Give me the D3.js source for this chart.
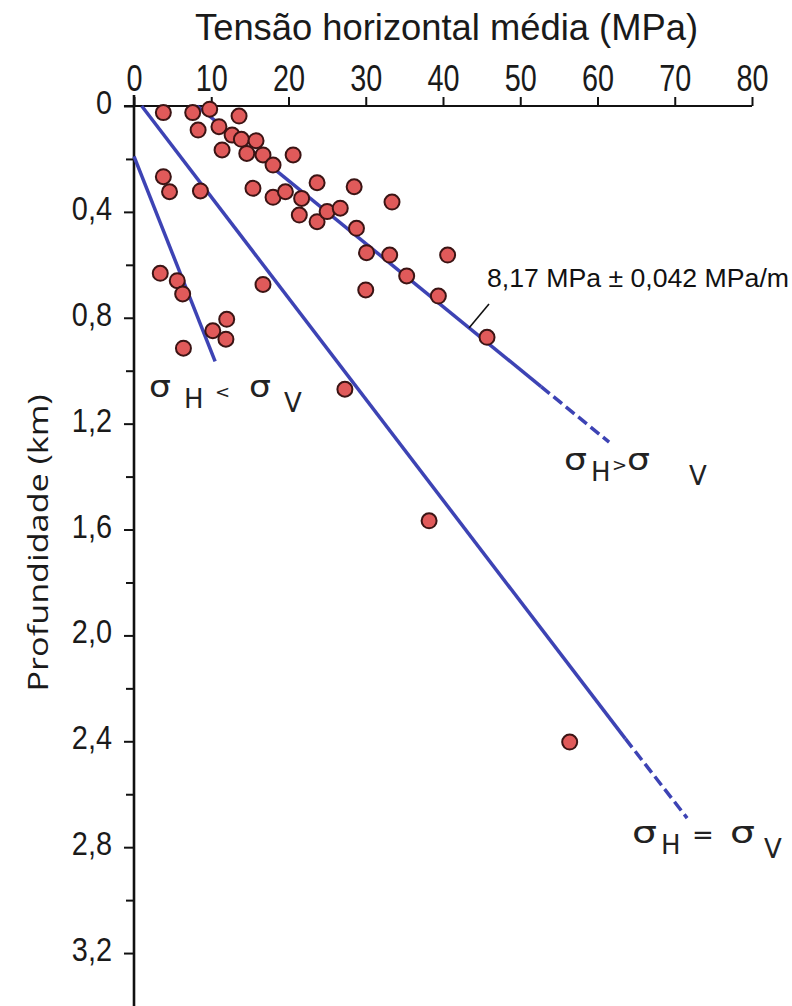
<!DOCTYPE html>
<html>
<head>
<meta charset="utf-8">
<script src="https://cdn.jsdelivr.net/npm/d3@7"></script>
<style>
  body { margin: 0; background: #fff; }
  svg { display: block; }
</style>
</head>
<body>
<svg id="chart" width="792" height="1006"></svg>
<script>
// tensão horizontal (MPa) x profundidade (km)
var stress = [3.8, 7.6, 9.8, 13.6, 8.3, 11.0, 12.7, 13.9, 15.8, 11.4, 14.6, 16.7, 18.0, 20.6,
    3.8, 4.6, 8.6, 15.4, 18.0, 19.6, 21.7, 23.7, 28.5, 33.4, 21.4, 23.7, 25.0, 26.7, 28.8,
    30.1, 33.1, 40.6, 35.3, 30.0, 39.4, 45.7, 3.4, 5.6, 6.3, 16.7, 10.2, 12.0, 11.9, 6.4,
    27.3, 38.2, 56.4];
var depth = [0.025, 0.025, 0.012, 0.038, 0.091, 0.078, 0.110, 0.126, 0.131, 0.166, 0.179, 0.185, 0.223, 0.185,
    0.267, 0.324, 0.321, 0.311, 0.345, 0.324, 0.349, 0.290, 0.305, 0.363, 0.412, 0.437, 0.399, 0.386, 0.462,
    0.554, 0.563, 0.563, 0.642, 0.695, 0.718, 0.874, 0.632, 0.660, 0.710, 0.674, 0.849, 0.806, 0.881, 0.915,
    1.070, 1.567, 2.403];

// retas de referência: [tensão, profundidade]
var lineLtSolid = [[0, 0.19], [10.5, 0.965]];
var lineEqSolid = [[1.0, 0], [63.6, 2.39]];
var lineEqDash = [[63.6, 2.39], [71.6, 2.69]];
var lineGtSolid = [[8.17, 0], [52.7, 1.06]];
var lineGtDash = [[52.7, 1.06], [61.5, 1.27]];

var xTicks = [0, 10, 20, 30, 40, 50, 60, 70, 80];
var yTicks = [0, 0.4, 0.8, 1.2, 1.6, 2.0, 2.4, 2.8, 3.2];
var yMinor = [0.2, 0.6, 1.0, 1.4, 1.8, 2.2, 2.6, 3.0];

var svg = d3.select("#chart");

var x = d3.scaleLinear().domain([0, 80]).range([134, 752]);
var y = d3.scaleLinear().domain([0, 3.4]).range([106, 1006]);

var sans = "'Liberation Sans', Arial, sans-serif";
var blue = "#3d43b4";

// aperta o texto para imitar a fonte estreita do original
function narrowText(sel, k) {
    sel.each(function () {
        var w = this.getComputedTextLength();
        d3.select(this)
            .attr("textLength", w * k)
            .attr("lengthAdjust", "spacingAndGlyphs");
    });
}

// título
svg.append("text")
    .attr("x", 195)
    .attr("y", 40)
    .attr("font-family", sans)
    .attr("font-size", 37)
    .attr("textLength", 503)
    .attr("lengthAdjust", "spacingAndGlyphs")
    .attr("fill", "#1a1a1a")
    .text("Tensão horizontal média (MPa)");

// eixo x (em cima)
var xAxis = svg.append("g")
    .attr("transform", "translate(0," + y(0) + ")")
    .call(d3.axisTop(x).tickValues(xTicks).tickSize(9).tickSizeOuter(0));
xAxis.select(".domain").remove();
xAxis.selectAll(".tick line").attr("stroke", "#111").attr("stroke-width", 2);
xAxis.selectAll(".tick text")
    .attr("y", -15)
    .attr("dy", 0)
    .attr("font-family", sans)
    .attr("font-size", 36)
    .attr("fill", "#1a1a1a")
    .call(narrowText, 0.8);
svg.append("line")
    .attr("x1", x(-1.3)).attr("x2", x(80))
    .attr("y1", y(0)).attr("y2", y(0))
    .attr("stroke", "#111").attr("stroke-width", 2);

// eixo y
var yAxis = svg.append("g")
    .attr("transform", "translate(" + x(0) + ",0)")
    .call(d3.axisLeft(y).tickValues(yTicks).tickSize(10).tickPadding(12).tickSizeOuter(0)
        .tickFormat(function (d) { return d === 0 ? "0" : d3.format(".1f")(d).replace(".", ","); }));
yAxis.select(".domain").remove();
yAxis.selectAll(".tick line").attr("stroke", "#111").attr("stroke-width", 2);
yAxis.selectAll(".tick text")
    .attr("dy", "0.22em")
    .attr("font-family", sans)
    .attr("font-size", 34)
    .attr("fill", "#1a1a1a")
    .call(narrowText, 0.85);

var yMinorAxis = svg.append("g")
    .attr("transform", "translate(" + x(0) + ",0)")
    .call(d3.axisLeft(y).tickValues(yMinor).tickSize(8).tickFormat(""));
yMinorAxis.select(".domain").remove();
yMinorAxis.selectAll(".tick line").attr("stroke", "#111").attr("stroke-width", 2);

svg.append("line")
    .attr("x1", x(0)).attr("x2", x(0))
    .attr("y1", y(0) - 11).attr("y2", y(3.4))
    .attr("stroke", "#111").attr("stroke-width", 2.6);

svg.append("text")
    .attr("transform", "translate(48," + 543 + ") rotate(-90)")
    .attr("text-anchor", "middle")
    .attr("font-family", "'Open Sans', 'Liberation Sans', sans-serif")
    .attr("font-size", 27)
    .attr("textLength", 297)
    .attr("lengthAdjust", "spacingAndGlyphs")
    .attr("fill", "#1a1a1a")
    .text("Profundidade (km)");

// retas
var line = d3.line()
    .x(function (d) { return x(d[0]); })
    .y(function (d) { return y(d[1]); });

[lineLtSolid, lineEqSolid, lineGtSolid].forEach(function (pts) {
    svg.append("path")
        .attr("d", line(pts))
        .attr("stroke", blue)
        .attr("stroke-width", 3.5)
        .attr("fill", "none");
});
[lineEqDash, lineGtDash].forEach(function (pts) {
    svg.append("path")
        .attr("d", line(pts))
        .attr("stroke", blue)
        .attr("stroke-width", 3.5)
        .attr("stroke-dasharray", "11,5")
        .attr("fill", "none");
});

// pontos
svg.append("g").selectAll("circle")
    .data(d3.range(stress.length))
    .enter().append("circle")
    .attr("cx", function (i) { return x(stress[i]); })
    .attr("cy", function (i) { return y(depth[i]); })
    .attr("r", 7.5)
    .attr("fill", "#e05a5a")
    .attr("stroke", "#3b1414")
    .attr("stroke-width", 2);

// anotação do gradiente
svg.append("line")
    .attr("x1", 489).attr("y1", 304)
    .attr("x2", 469).attr("y2", 328)
    .attr("stroke", "#111").attr("stroke-width", 1.6);
svg.append("text")
    .attr("x", 487)
    .attr("y", 287)
    .attr("font-family", sans)
    .attr("font-size", 25)
    .attr("textLength", 302)
    .attr("lengthAdjust", "spacingAndGlyphs")
    .attr("fill", "#111")
    .text("8,17 MPa ± 0,042 MPa/m");

// rótulos σH / σV
function sigmaLabel(x0, base, op, pos, sw) {
    var g = svg.append("g")
        .attr("font-family", "'DejaVu Sans', sans-serif")
        .attr("fill", "#222");
    g.append("text").attr("x", x0 + pos[0]).attr("y", base).attr("font-size", 31)
        .attr("textLength", sw).attr("lengthAdjust", "spacingAndGlyphs").text("σ");
    g.append("text").attr("x", x0 + pos[1]).attr("y", base + 11).attr("font-size", 26).text("H");
    g.append("text").attr("x", x0 + pos[2]).attr("y", base + 1).attr("font-size", op === "=" ? 26 : 18).text(op);
    g.append("text").attr("x", x0 + pos[3]).attr("y", base).attr("font-size", 31)
        .attr("textLength", sw).attr("lengthAdjust", "spacingAndGlyphs").text("σ");
    g.append("text").attr("x", x0 + pos[4]).attr("y", base + 15).attr("font-size", 26).text("V");
}
sigmaLabel(149, 397, "<", [0, 35, 66, 100, 135], 22);
sigmaLabel(564, 470, ">", [0, 27, 48, 63, 125], 23);
sigmaLabel(632, 843, "=", [0, 29, 60, 98, 132], 25);
</script>
</body>
</html>
